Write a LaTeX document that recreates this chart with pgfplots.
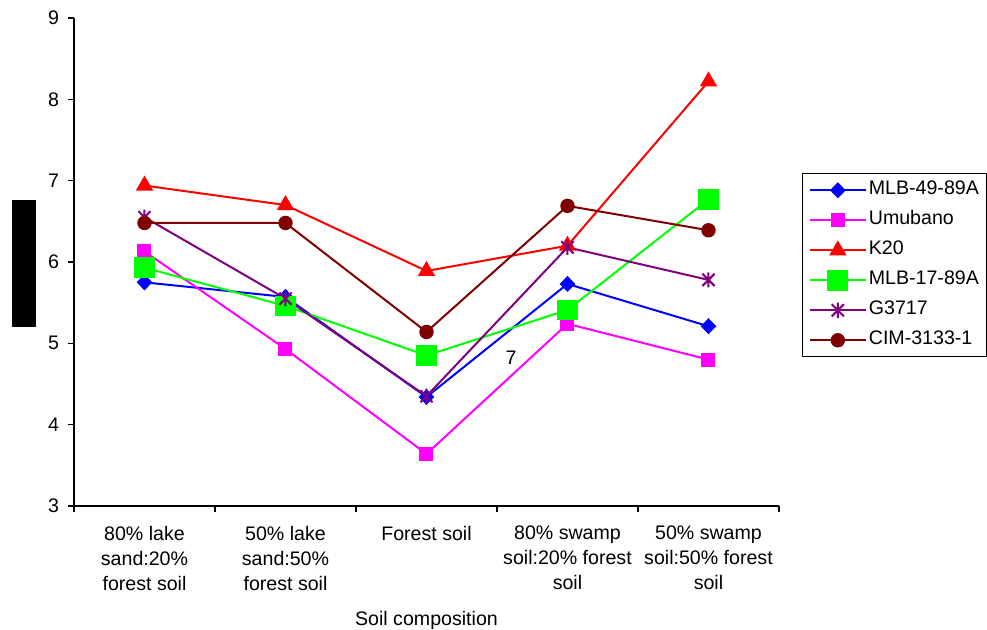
\documentclass[border=0pt]{standalone}
\usepackage{pgfplots}
\pgfplotsset{compat=1.18}
\usepackage{fontspec}
\setmainfont{Liberation Sans}
\usetikzlibrary{calc}
\definecolor{cBlue}{RGB}{0,0,255}
\definecolor{cMag}{RGB}{255,0,255}
\definecolor{cRed}{RGB}{255,0,0}
\definecolor{cGreen}{RGB}{0,255,0}
\definecolor{cPurple}{RGB}{128,0,128}
\definecolor{cMaroon}{RGB}{128,0,0}
\pgfdeclareplotmark{xstar}{%
  \pgfpathmoveto{\pgfqpoint{0pt}{\pgfplotmarksize}}%
  \pgfpathlineto{\pgfqpoint{0pt}{-\pgfplotmarksize}}%
  \pgfpathmoveto{\pgfqpoint{-0.8\pgfplotmarksize}{0.8\pgfplotmarksize}}%
  \pgfpathlineto{\pgfqpoint{0.8\pgfplotmarksize}{-0.8\pgfplotmarksize}}%
  \pgfpathmoveto{\pgfqpoint{-0.8\pgfplotmarksize}{-0.8\pgfplotmarksize}}%
  \pgfpathlineto{\pgfqpoint{0.8\pgfplotmarksize}{0.8\pgfplotmarksize}}%
  \pgfusepathqstroke}
\begin{document}
\begin{tikzpicture}
\begin{axis}[
  name=ax,
  scale only axis,
  width=352.5pt, height=244pt,
  xmin=-0.5, xmax=4.5, ymin=3, ymax=9,
  axis x line=bottom, axis y line=left,
  axis line style={-, black, line width=0.6pt},
  xtick={0,1,2,3,4},
  xticklabels={{80\% lake\\sand:20\%\\forest soil},{50\% lake\\sand:50\%\\forest soil},{Forest soil},{80\% swamp\\soil:20\% forest\\soil},{50\% swamp\\soil:50\% forest\\soil}},
  major x tick style={draw=none},
  minor xtick={-0.5,0.5,1.5,2.5,3.5,4.5},
  minor x tick style={black, line width=0.6pt},
  minor tick length=3pt,
  ytick={3,4,5,6,7,8,9},
  major tick length=3pt,
  tick align=outside,
  y tick style={black, line width=0.6pt},
  tick label style={font=\fontsize{9.8}{12.5}\selectfont},
  x tick label style={align=center, anchor=north, yshift=-3.5pt},
  y tick label style={xshift=-1pt},
  /pgf/number format/assume math mode=true,
  xlabel={Soil composition},
  xlabel style={font=\fontsize{9.8}{11}\selectfont, at={(rel axis cs:0.5,-0.2336)}, anchor=center},
  ylabel={\rule{63.5pt}{12pt}},
  ylabel style={at={(rel axis cs:-0.0709,0.497)}, anchor=center, inner sep=0pt},
  legend style={at={(rel axis cs:1.033,0.682)}, anchor=north west, draw=black, line width=0.6pt,
    font=\fontsize{9.8}{11}\selectfont, inner sep=3pt,
    nodes={inner sep=1pt, text height=6.5pt, text depth=2pt}, row sep=4.5pt},
  legend cell align=left,
  legend image code/.code={\draw[mark repeat=2,mark phase=2,#1] plot coordinates {(0pt,0pt) (14pt,0pt) (28pt,0pt)};},
  every axis plot/.append style={line width=1pt},
  clip=false,
]
\addplot[cBlue, mark=diamond*, mark size=3.3pt, mark options={solid, fill=cBlue, xscale=1.3}]
  coordinates {(0,5.75) (1,5.57) (2,4.34) (3,5.73) (4,5.21)};
\addlegendentry{MLB-49-89A}
\addplot[cMag, mark=square*, mark size=3pt, mark options={solid, fill=cMag}]
  coordinates {(0,6.13) (1,4.93) (2,3.64) (3,5.24) (4,4.80)};
\addlegendentry{Umubano}
\addplot[cRed, mark=triangle*, mark size=4pt, mark options={solid, fill=cRed}]
  coordinates {(0,6.94) (1,6.70) (2,5.89) (3,6.20) (4,8.22)};
\addlegendentry{K20}
\addplot[cGreen, mark=square*, mark size=4.7pt, mark options={solid, fill=cGreen}]
  coordinates {(0,5.93) (1,5.46) (2,4.85) (3,5.41) (4,6.77)};
\addlegendentry{MLB-17-89A}
\addplot[cPurple, mark=xstar, mark size=3.8pt, mark options={solid, line width=1pt}]
  coordinates {(0,6.55) (1,5.55) (2,4.35) (3,6.18) (4,5.78)};
\addlegendentry{G3717}
\addplot[cMaroon, mark=*, mark size=3.1pt, mark options={solid, fill=cMaroon}]
  coordinates {(0,6.48) (1,6.48) (2,5.14) (3,6.69) (4,6.39)};
\addlegendentry{CIM-3133-1}
\node[font=\fontsize{9.8}{11}\selectfont] at (axis cs:2.6,4.82) {7};
\end{axis}
\pgfresetboundingbox
\path ($(ax.south west)+(-37pt,-62pt)$) rectangle ++(493.5pt,315pt);
\end{tikzpicture}
\end{document}
